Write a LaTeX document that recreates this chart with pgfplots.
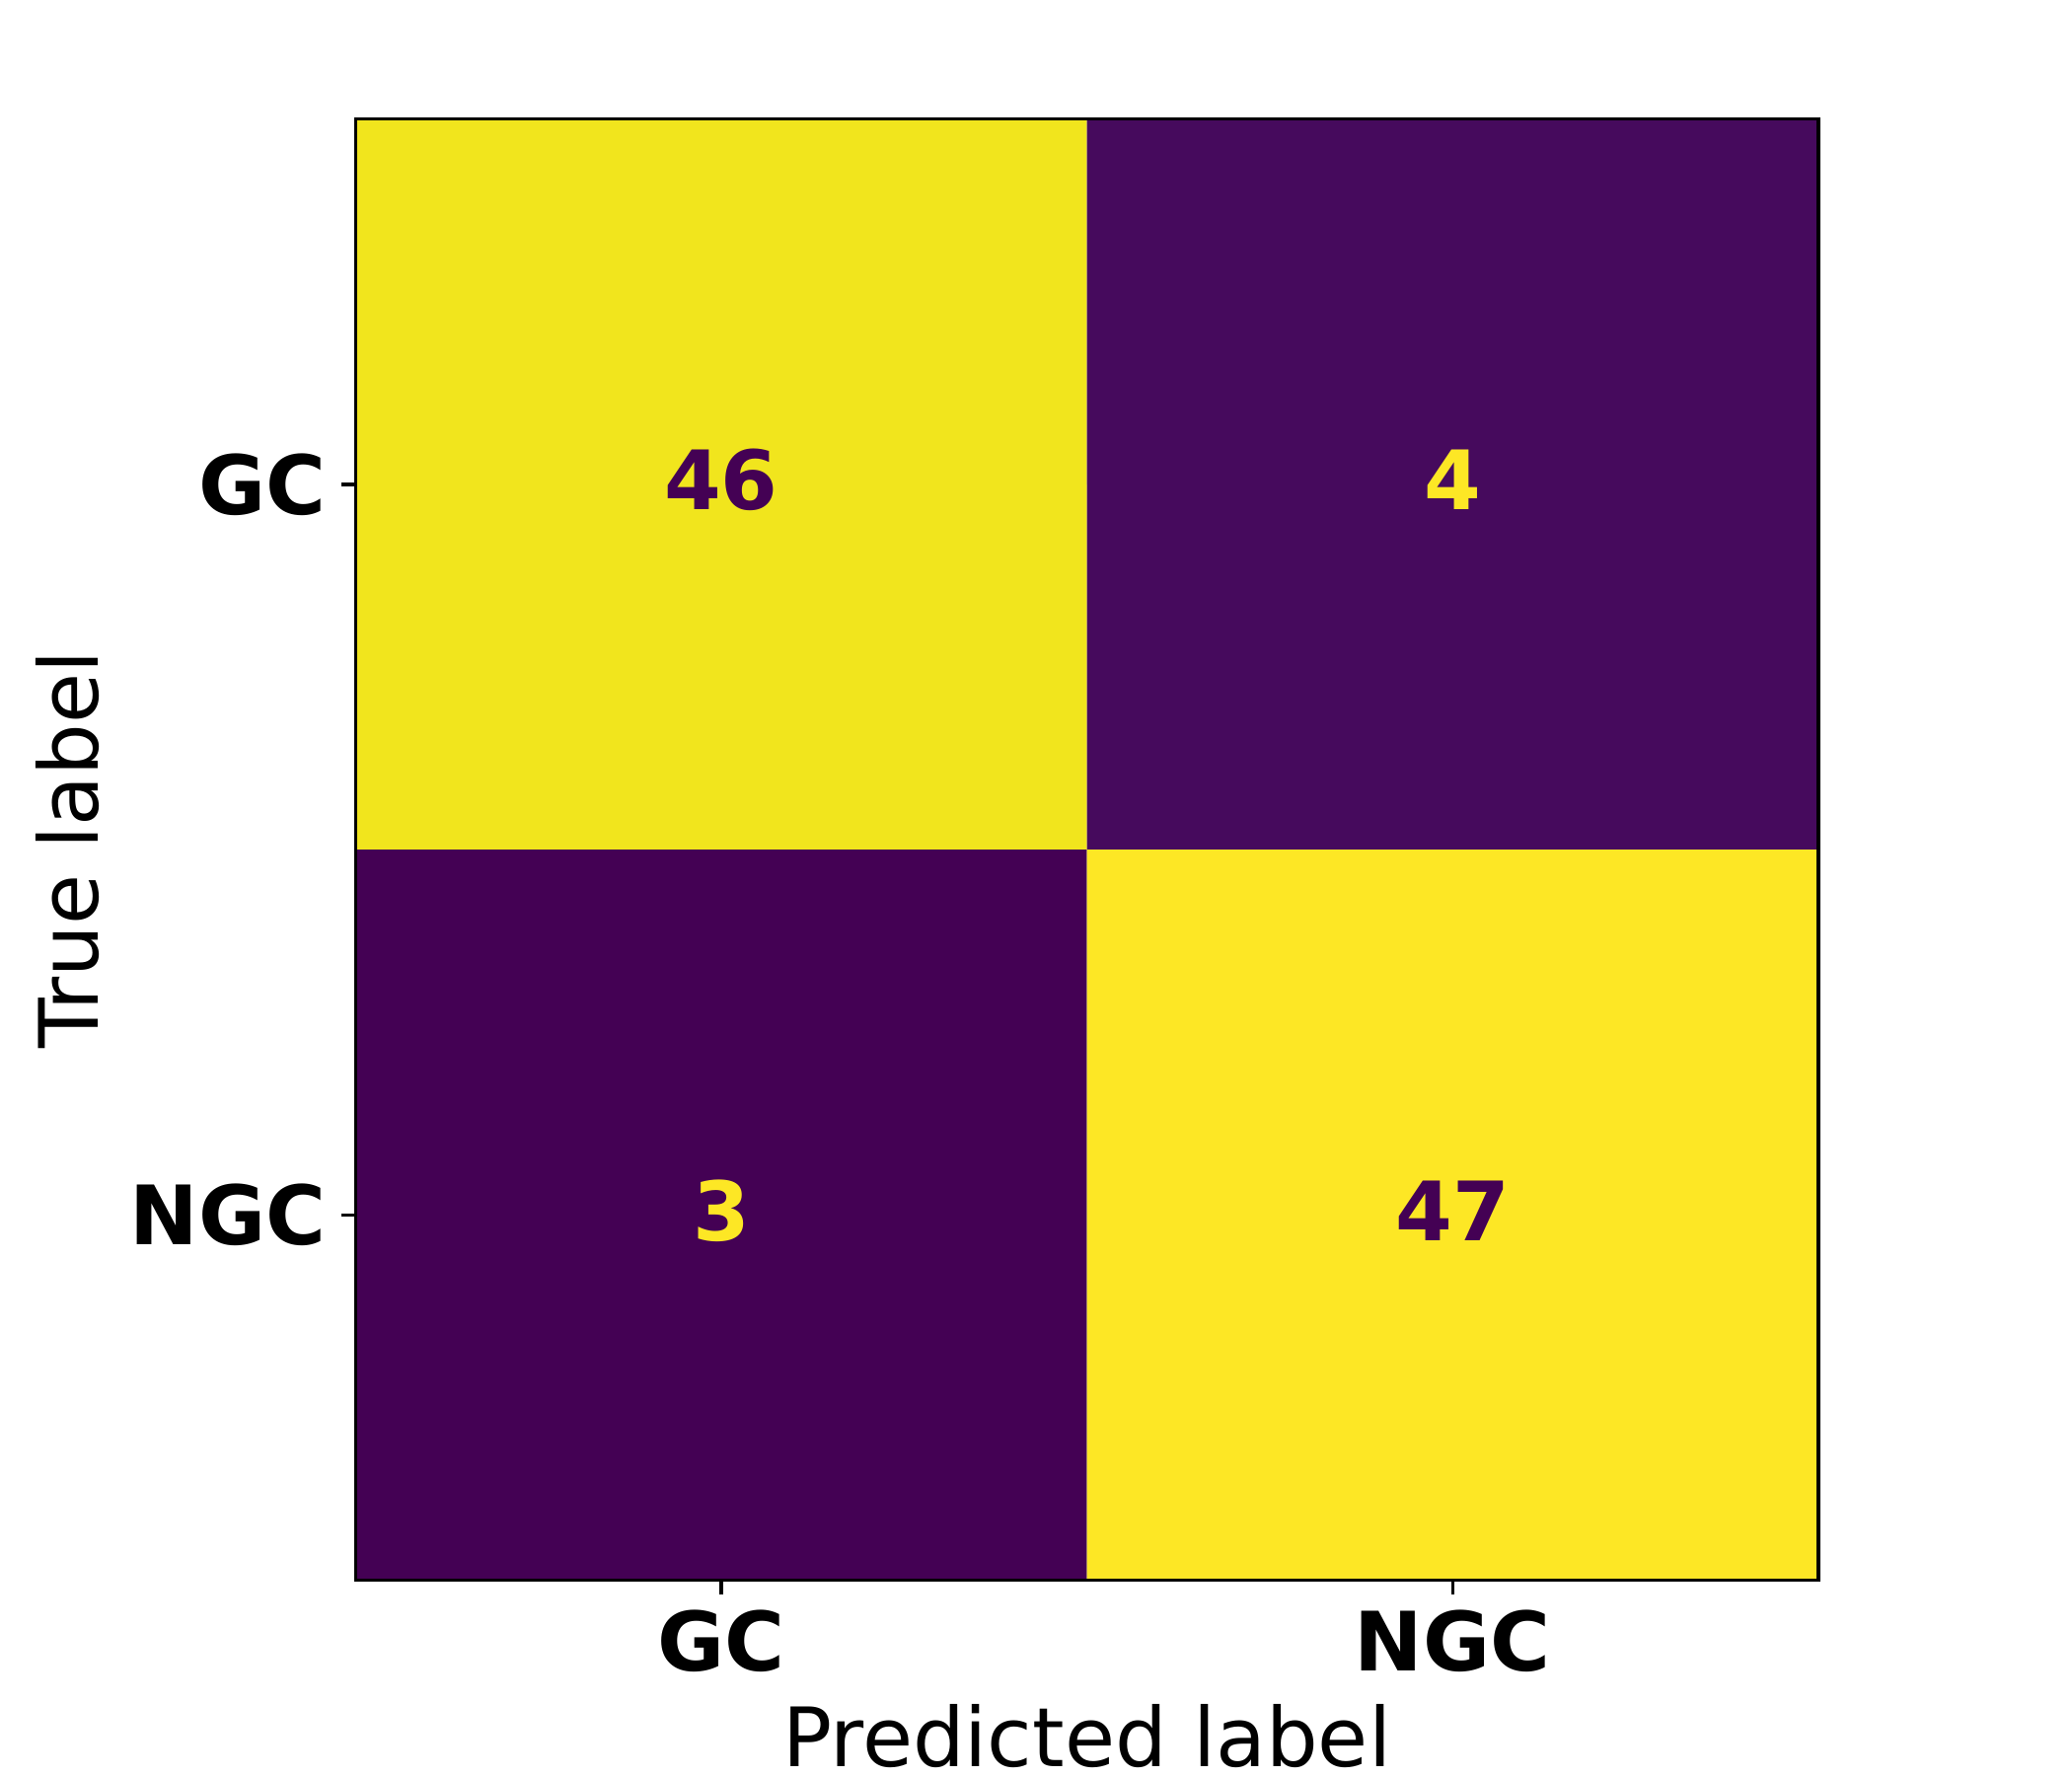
\documentclass[border=0pt]{standalone}
\usepackage{fontspec}
\setmainfont{DejaVu Sans}
\usepackage{pgfplots}
\usepackage{pgfplotstable}
\pgfplotsset{compat=1.18}
\definecolor{vlow}{HTML}{440154}
\definecolor{vlow2}{HTML}{460A5D}
\definecolor{vhigh}{HTML}{FDE725}
\definecolor{vhigh2}{HTML}{F1E51D}
\begin{document}
\begin{tikzpicture}
\useasboundingbox (0,0) rectangle (7in,6in);
\begin{axis}[
  at={(1.201in,0.661in)}, anchor=south west,
  scale only axis, width=4.942in, height=4.937in,
  xmin=-0.5, xmax=1.5, ymin=-0.5, ymax=1.5,
  y dir=reverse,
  axis on top,
  xtick={0,1}, ytick={0,1},
  xticklabels={GC,NGC}, yticklabels={GC,NGC},
  tick align=outside, major tick length=3.5pt,
  xtick pos=bottom, ytick pos=left,
  every tick/.style={black, line width=0.8pt},
  axis line style={line width=0.8pt},
  ticklabel style={font=\bfseries\fontsize{20}{24}\selectfont, inner sep=3.5pt},
  xlabel={Predicted label}, ylabel={True label},
  label style={font=\fontsize{20}{24}\selectfont},
  xlabel style={yshift=-1pt},
  ylabel style={yshift=0.5pt},
  enlargelimits=false,
]
\addplot[fill=vhigh2, draw=none] coordinates {(-0.5,-0.5) (0.5,-0.5) (0.5,0.5) (-0.5,0.5)} \closedcycle;
\addplot[fill=vlow2, draw=none] coordinates {(0.5,-0.5) (1.5,-0.5) (1.5,0.5) (0.5,0.5)} \closedcycle;
\addplot[fill=vlow, draw=none] coordinates {(-0.5,0.5) (0.5,0.5) (0.5,1.5) (-0.5,1.5)} \closedcycle;
\addplot[fill=vhigh, draw=none] coordinates {(0.5,0.5) (1.5,0.5) (1.5,1.5) (0.5,1.5)} \closedcycle;
\addplot[draw=none, mark=none, nodes near coords, point meta=explicit symbolic,
  nodes near coords style={anchor=center, yshift=1pt, text=vlow, font=\bfseries\fontsize{20}{24}\selectfont}]
  coordinates {(0,0) [46] (1,1) [47]};
\addplot[draw=none, mark=none, nodes near coords, point meta=explicit symbolic,
  nodes near coords style={anchor=center, yshift=1pt, text=vhigh, font=\bfseries\fontsize{20}{24}\selectfont}]
  coordinates {(1,0) [4] (0,1) [3]};
\end{axis}
\end{tikzpicture}
\end{document}
